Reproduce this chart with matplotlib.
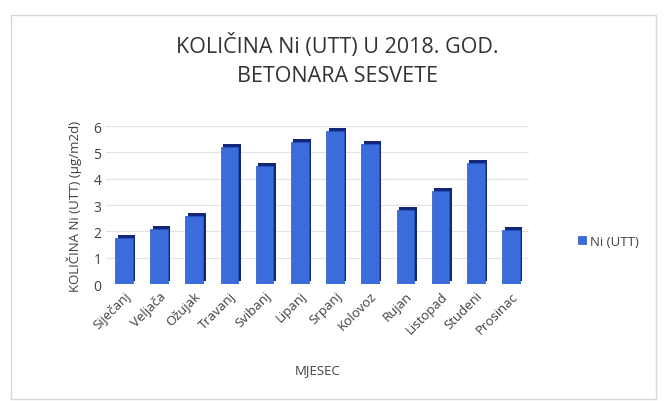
import matplotlib.pyplot as plt
import matplotlib.transforms as mtransforms
from matplotlib.patches import Rectangle

plt.rcParams['font.family'] = ['Open Sans', 'DejaVu Sans']

months = ['Siječanj', 'Veljača', 'Ožujak', 'Travanj', 'Svibanj', 'Lipanj',
          'Srpanj', 'Kolovoz', 'Rujan', 'Listopad', 'Studeni', 'Prosinac']
ni_utt = [1.75, 2.1, 2.6, 5.2, 4.5, 5.4, 5.8, 5.3, 2.8, 3.55, 4.6, 2.05]
y_ticks = [0, 1, 2, 3, 4, 5, 6]

fig = plt.figure(figsize=(6.64, 4.02), dpi=100)
fig.patch.set_facecolor('white')

# chart frame
fig.patches.append(Rectangle((0.016, 0.005), 0.972, 0.955, transform=fig.transFigure,
                             fill=False, edgecolor='#d8d8d8', linewidth=1.0))

ax = fig.add_axes([0.16, 0.291, 0.636, 0.393])
x = list(range(len(months)))

# 3d look: dark shifted bar behind the front face
shift = mtransforms.ScaledTranslation(2.5 / 100, 3 / 100, fig.dpi_scale_trans)
ax.bar(x, ni_utt, width=0.5, color='#13277a', transform=ax.transData + shift, zorder=2)
ax.bar(x, ni_utt, width=0.5, color='#3a6ddb', edgecolor='#2a55c0', linewidth=0.5,
       label='Ni (UTT)', zorder=3)

ax.set_xlim(-0.5, len(months) - 0.5)
ax.set_ylim(0, 6)
ax.set_yticks(y_ticks)
ax.grid(axis='y', color='#e3e3e3', linewidth=0.8, zorder=0)
for s in ax.spines.values():
    s.set_visible(False)
ax.tick_params(length=0, colors='#404040', labelsize=10)
ax.set_xticks(x)
ax.set_xticklabels(months, rotation=45, ha='right', rotation_mode='anchor', fontsize=9.5)
ax.set_xlabel('MJESEC', fontsize=9.5, color='#404040', labelpad=20)
ax.set_ylabel('KOLIČINA Ni (UTT) (µg/m2d)', fontsize=9.5, color='#404040', labelpad=8)

fig.text(0.508, 0.885, 'KOLIČINA Ni (UTT) U 2018. GOD.', ha='center', va='center',
         fontsize=15.5, color='#333333')
fig.text(0.508, 0.81, 'BETONARA SESVETE', ha='center', va='center',
         fontsize=15.5, color='#333333')

ax.legend(loc='center left', bbox_to_anchor=(1.09, 0.27), frameon=False, fontsize=9.5,
          handlelength=0.6, handleheight=0.6, handletextpad=0.3, labelcolor='#404040')

fig.savefig('out.png', dpi=100)
